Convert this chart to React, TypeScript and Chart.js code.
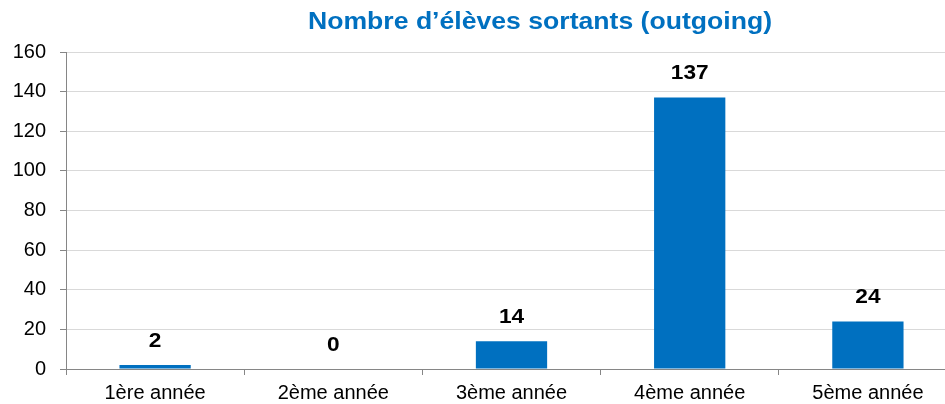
import React, { useEffect, useRef } from "react";
import { Chart, registerables } from "chart.js";

Chart.register(...registerables);

const categories = ["1ère année", "2ème année", "3ème année", "4ème année", "5ème année"];
const outgoing = [2, 0, 14, 137, 24];
const titleText = "Nombre d\u2019élèves sortants (outgoing)";
const yMin = 0;
const yMax = 160;
const yStep = 20;

const FONT = "Arial, 'Liberation Sans', sans-serif";
const BLUE = "#0070C0";

function drawStretched(ctx: any, text: string, cx: number, cy: number, sx: number) {
  ctx.save();
  ctx.translate(cx, cy);
  ctx.scale(sx, 1);
  ctx.fillText(text, 0, 0);
  ctx.restore();
}

const titlePlugin = {
  id: "customTitle",
  afterDraw(chart: any) {
    const ctx = chart.ctx;
    ctx.save();
    ctx.font = `bold 24px ${FONT}`;
    ctx.fillStyle = BLUE;
    ctx.textAlign = "center";
    ctx.textBaseline = "middle";
    const w = ctx.measureText(titleText).width;
    drawStretched(ctx, titleText, 540, 22, 464 / w);
    ctx.restore();
  },
};

const labelPlugin = {
  id: "barLabels",
  afterDatasetsDraw(chart: any) {
    const ctx = chart.ctx;
    const meta = chart.getDatasetMeta(0);
    ctx.save();
    ctx.font = `bold 21px ${FONT}`;
    ctx.fillStyle = "#000";
    ctx.textAlign = "center";
    ctx.textBaseline = "middle";
    meta.data.forEach((bar: any, i: number) => {
      const v = chart.data.datasets[0].data[i];
      drawStretched(ctx, String(v), bar.x, bar.y - 24, 1.08);
    });
    ctx.restore();
  },
};

export default function App() {
  const ref = useRef<HTMLCanvasElement | null>(null);
  useEffect(() => {
    if (!ref.current) return;
    const chart = new Chart(ref.current, {
      type: "bar",
      data: {
        labels: categories,
        datasets: [
          {
            data: outgoing,
            backgroundColor: BLUE,
            barPercentage: 0.4,
            categoryPercentage: 1,
          },
        ],
      },
      options: {
        responsive: false,
        animation: false,
        devicePixelRatio: 1,
        layout: { padding: { top: 52, left: 0, right: 3, bottom: 0 } },
        plugins: {
          legend: { display: false },
          title: { display: false },
          tooltip: { enabled: false },
        },
        scales: {
          x: {
            offset: true,
            grid: {
              offset: true,
              drawOnChartArea: false,
              drawTicks: true,
              tickLength: 6,
              tickColor: "#868686",
            },
            border: { color: "#868686", width: 1 },
            ticks: {
              color: "#000",
              font: { family: FONT, size: 20 },
              padding: 6,
              maxRotation: 0,
              autoSkip: false,
            },
            afterFit(axis: any) {
              axis.height = 35;
            },
          },
          y: {
            min: yMin,
            max: yMax,
            grid: {
              color: "#d9d9d9",
              lineWidth: 1,
              drawTicks: true,
              tickLength: 6,
              tickColor: "#868686",
            },
            border: { color: "#868686", width: 1 },
            ticks: {
              stepSize: yStep,
              color: "#000",
              font: { family: FONT, size: 20 },
              padding: 14,
            },
            afterFit(axis: any) {
              axis.width = 66;
            },
          },
        },
      },
      plugins: [titlePlugin, labelPlugin],
    });
    return () => chart.destroy();
  }, []);
  return (
    <div
      style={{
        position: "fixed",
        left: 0,
        top: 0,
        width: 945,
        height: 404,
        overflow: "hidden",
        background: "#fff",
      }}
    >
      <canvas ref={ref} width={960} height={404} style={{ width: 960, height: 404, display: "block" }} />
    </div>
  );
}
